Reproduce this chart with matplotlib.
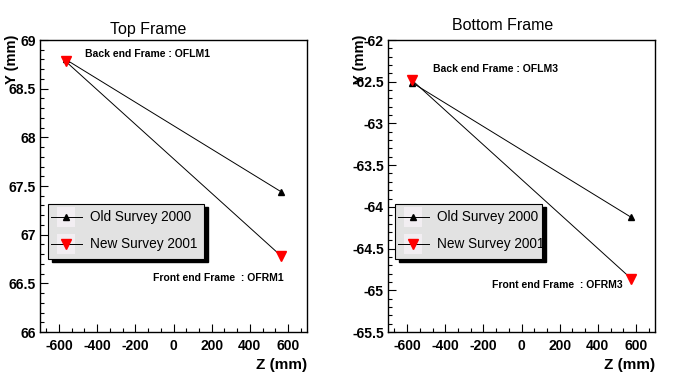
import matplotlib
matplotlib.use("Agg")
import matplotlib.pyplot as plt
from matplotlib.patches import Rectangle
from matplotlib.lines import Line2D
from matplotlib.ticker import MultipleLocator, FuncFormatter

plt.rcParams['font.family'] = ['Liberation Sans', 'DejaVu Sans']

# survey points, Z (mm) vs Y (mm)
z_pts = [-565, 565]
top_old = [68.80, 67.44]
top_new = [68.78, 66.78]
bot_z = [-575, 575]
bot_old = [-62.51, -64.125]
bot_new = [-62.48, -64.86]

titles = ["Top Frame", "Bottom Frame"]
back_labels = ["Back end Frame : OFLM1", "Back end Frame : OFLM3"]
front_labels = ["Front end Frame  : OFRM1", "Front end Frame  : OFRM3"]
legend_labels = ["Old Survey 2000", "New Survey 2001"]
ylims = [(66, 69), (-65.5, -62)]

W, H = 696, 372
fig = plt.figure(figsize=(W / 100, H / 100), dpi=100)

def px_axes(x0, y0, x1, y1):
    # pixel box (top-down) -> figure axes
    return fig.add_axes([x0 / W, 1 - y1 / H, (x1 - x0) / W, (y1 - y0) / H])

ax_l = px_axes(40, 40, 307, 332)
ax_r = px_axes(388, 40, 655, 332)

panels = [
    (ax_l, z_pts, top_old, top_new),
    (ax_r, bot_z, bot_old, bot_new),
]

# annotation positions in axes fraction (left x, center y)
back_pos = [(0.168, 0.952), (0.167, 0.90)]
front_pos = [(0.424, 0.185), (0.388, 0.161)]
title_x = [0.405, 0.43]
title_y = [1.035, 1.05]

fmt = FuncFormatter(lambda v, p: "%g" % v)

for i, (ax, z, old, new) in enumerate(panels):
    ax.plot(z, old, color='black', lw=0.7, marker='^', ms=5, mfc='black', mec='black', zorder=3)
    ax.plot(z, new, color='black', lw=0.7, zorder=3)
    ax.plot(z, new, ls='none', marker='v', ms=6.5, mfc='red', mec='red', zorder=4)

    ax.set_xlim(-700, 700)
    ax.set_ylim(*ylims[i])
    ax.xaxis.set_major_locator(MultipleLocator(200))
    ax.xaxis.set_minor_locator(MultipleLocator(200 / 3))
    ax.yaxis.set_major_locator(MultipleLocator(0.5))
    ax.yaxis.set_minor_locator(MultipleLocator(0.1))
    ax.yaxis.set_major_formatter(fmt)
    ax.xaxis.set_major_formatter(fmt)
    ax.tick_params(which='both', direction='in', top=False, right=False,
                   labelsize=10, width=0.8)
    ax.tick_params(which='major', length=6)
    ax.tick_params(which='minor', length=3)
    ax.tick_params(axis='x', pad=5)
    ax.tick_params(axis='y', pad=3)
    for lab in ax.get_xticklabels() + ax.get_yticklabels():
        lab.set_fontweight('bold')
    for s in ax.spines.values():
        s.set_linewidth(1.0)

    ax.text(title_x[i], title_y[i], titles[i], transform=ax.transAxes,
            ha='center', va='center', fontsize=11.5)
    ax.text(back_pos[i][0], back_pos[i][1], back_labels[i], transform=ax.transAxes,
            ha='left', va='center', fontsize=7.5, fontweight='bold')
    ax.text(front_pos[i][0], front_pos[i][1], front_labels[i], transform=ax.transAxes,
            ha='left', va='center', fontsize=7.5, fontweight='bold')

    ax.text(-0.105, 1.02, "Y (mm)", transform=ax.transAxes, rotation=90,
            ha='center', va='top', fontsize=10.5, fontweight='bold')
    ax.text(1.0, -0.09, "Z (mm)", transform=ax.transAxes,
            ha='right', va='top', fontsize=11, fontweight='bold', clip_on=False)

    # hand drawn legend box with black drop shadow
    lx0 = 8 / 267 if i == 0 else 7 / 267
    lx1 = 164 / 267 if i == 0 else 154 / 267
    ly1 = 1 - 164 / 292
    ly0 = 1 - 219 / 292
    dx, dy = 4 / 267, 3 / 292
    ax.add_patch(Rectangle((lx0 + dx, ly0 - dy), lx1 - lx0, ly1 - ly0, transform=ax.transAxes,
                           facecolor='black', edgecolor='black', zorder=5, clip_on=False))
    box = Rectangle((lx0, ly0), lx1 - lx0, ly1 - ly0, transform=ax.transAxes,
                    facecolor='#e2e2e2', edgecolor='black', lw=0.8, zorder=6, clip_on=False)
    ax.add_patch(box)
    rows = [(ly1 - 13 / 292, '^', 'black', 5), (ly1 - 40 / 292, 'v', 'red', 6.5)]
    for j, (ry, mk, col, ms) in enumerate(rows):
        mx = lx0 + 18 / 267
        ax.add_patch(Rectangle((mx - 9 / 267, ry - 10 / 292), 18 / 267, 20 / 292,
                               transform=ax.transAxes, facecolor='#f2eef2',
                               edgecolor='none', zorder=7))
        ax.add_line(Line2D([lx0 + 3 / 267, lx0 + 34 / 267], [ry, ry], transform=ax.transAxes,
                           color='black', lw=0.7, zorder=8))
        ax.add_line(Line2D([mx], [ry], transform=ax.transAxes, ls='none', marker=mk,
                           ms=ms, mfc=col, mec=col, zorder=9))
        txt = ax.text(lx0 + 42 / 267, ry, legend_labels[j], transform=ax.transAxes,
                      ha='left', va='center', fontsize=9.8, zorder=9)
        txt.set_clip_path(box)

fig.savefig("out.png", dpi=100)
